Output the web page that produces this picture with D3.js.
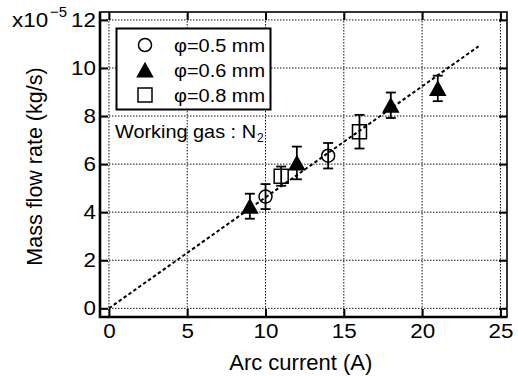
<!DOCTYPE html>
<html>
<head>
<meta charset="utf-8">
<script src="https://cdn.jsdelivr.net/npm/d3@7"></script>
<style>
  body { margin: 0; background: #fff; }
  svg { display: block; font-family: "Liberation Sans", Arial, Helvetica, sans-serif; }
</style>
</head>
<body>
<svg id="chart" width="518" height="376"></svg>
<script>
'use strict';

// DATA (arc current in A, mass flow rate in 1e-5 kg/s, error half-width)
const current_05 = [10, 14];
const flow_05 = [4.65, 6.35];
const err_05 = [0.52, 0.53];

const current_06 = [9, 12, 18, 21];
const flow_06 = [4.25, 6.05, 8.45, 9.15];
const err_06 = [0.52, 0.68, 0.53, 0.53];

const current_08 = [11, 16];
const flow_08 = [5.5, 7.35];
const err_08 = [0.4, 0.7];

const fit_x = [0, 23.6];
const fit_y = [0, 10.9];

const x_ticks = [0, 5, 10, 15, 20, 25];
const y_ticks = [0, 2, 4, 6, 8, 10, 12];

const legend_labels = ['\u03c6=0.5 mm', '\u03c6=0.6 mm', '\u03c6=0.8 mm'];

const series = [
  { shape: 'circle', label: legend_labels[0], x: current_05, y: flow_05, err: err_05 },
  { shape: 'triangle', label: legend_labels[1], x: current_06, y: flow_06, err: err_06 },
  { shape: 'square', label: legend_labels[2], x: current_08, y: flow_08, err: err_08 }
];

// LAYOUT
const width = 518;
const height = 376;
const margin = { top: 12, right: 11, bottom: 59, left: 100 };
const inner_w = width - margin.left - margin.right;
const inner_h = height - margin.top - margin.bottom;

const svg = d3.select('#chart');
const g = svg.append('g').attr('transform', `translate(${margin.left},${margin.top})`);

const x = d3.scaleLinear().domain([-0.57, 25.42]).range([0, inner_w]);
const y = d3.scaleLinear().domain([-0.36, 12.33]).range([inner_h, 0]);

// the scanned figure has slightly wide glyphs: stretch text horizontally
function stretch(sel, k) {
  sel.each(function() {
    const len = this.getComputedTextLength();
    d3.select(this).attr('textLength', len * k).attr('lengthAdjust', 'spacingAndGlyphs');
  });
}

// GRID
const grid = g.append('g').attr('class', 'grid')
  .attr('stroke', '#111').attr('stroke-width', 1).attr('stroke-dasharray', '1.5,1.5');
grid.selectAll('.vgrid').data(x_ticks).enter().append('line')
  .attr('x1', d => x(d)).attr('x2', d => x(d))
  .attr('y1', 0).attr('y2', inner_h);
grid.selectAll('.hgrid').data(y_ticks).enter().append('line')
  .attr('x1', 0).attr('x2', inner_w)
  .attr('y1', d => y(d)).attr('y2', d => y(d));

// AXES
const tick_len = 8;
const font_tick = 20;

const x_axis = g.append('g')
  .attr('transform', `translate(0,${inner_h})`)
  .call(d3.axisBottom(x).tickValues(x_ticks).tickSize(-tick_len).tickPadding(7));
const y_axis = g.append('g')
  .call(d3.axisLeft(y).tickValues(y_ticks).tickSize(-tick_len).tickPadding(4));
const x_axis_top = g.append('g')
  .call(d3.axisTop(x).tickValues(x_ticks).tickSize(-tick_len).tickFormat(''));
const y_axis_right = g.append('g')
  .attr('transform', `translate(${inner_w},0)`)
  .call(d3.axisRight(y).tickValues(y_ticks).tickSize(-tick_len).tickFormat(''));

[x_axis, y_axis, x_axis_top, y_axis_right].forEach(a => {
  a.select('.domain').remove();
  a.selectAll('.tick line').attr('stroke', '#000').attr('stroke-width', 2);
  a.selectAll('text')
    .attr('fill', '#000')
    .attr('font-size', font_tick)
    .attr('font-family', '"Liberation Sans", Arial, sans-serif');
});
stretch(x_axis.selectAll('text'), 1.12);
stretch(y_axis.selectAll('text'), 1.12);

// frame: bold left / bottom, lighter top / right
g.append('rect')
  .attr('x', 0).attr('y', 0).attr('width', inner_w).attr('height', inner_h)
  .attr('fill', 'none').attr('stroke', '#000').attr('stroke-width', 1.6);
g.append('path')
  .attr('d', `M0,0 V${inner_h} H${inner_w}`)
  .attr('fill', 'none').attr('stroke', '#000').attr('stroke-width', 2.6);

// exponent label
const expo = svg.append('g');
const expo_base = expo.append('text')
  .attr('x', 12).attr('y', 27)
  .attr('font-size', font_tick)
  .attr('fill', '#000')
  .text('x10');
stretch(expo_base, 1.12);
expo.append('text')
  .attr('x', 50).attr('y', 17)
  .attr('font-size', 15)
  .attr('fill', '#000')
  .text('\u22125');

// axis titles
svg.append('text')
  .attr('x', margin.left + x(12.25)).attr('y', 370)
  .attr('text-anchor', 'middle')
  .attr('font-size', 22)
  .attr('fill', '#000')
  .text('Arc current (A)');

svg.append('text')
  .attr('transform', `translate(42,${margin.top + y(5.9)}) rotate(-90)`)
  .attr('text-anchor', 'middle')
  .attr('font-size', 21.5)
  .attr('fill', '#000')
  .text('Mass flow rate (kg/s)');

// FIT LINE
const fit_data = fit_x.map((d, i) => [d, fit_y[i]]);
g.append('path')
  .datum(fit_data)
  .attr('d', d3.line().x(d => x(d[0])).y(d => y(d[1])))
  .attr('fill', 'none')
  .attr('stroke', '#000')
  .attr('stroke-width', 2)
  .attr('stroke-dasharray', '3.5,2.5');

// MARKERS
function markerPath(shape, cx, cy) {
  if (shape === 'circle') {
    const r = 6.5;
    return `M${cx - r},${cy} a${r},${r} 0 1,0 ${2 * r},0 a${r},${r} 0 1,0 ${-2 * r},0 Z`;
  }
  if (shape === 'triangle') {
    const w = 15, h = 13.5;
    return `M${cx},${cy - h / 2} L${cx + w / 2},${cy + h / 2} L${cx - w / 2},${cy + h / 2} Z`;
  }
  const s = 14;
  return `M${cx - s / 2},${cy - s / 2} h${s} v${s} h${-s} Z`;
}

const cap_w = 10;
series.forEach(s => {
  const pts = s.x.map((d, i) => ({ x: d, y: s.y[i], e: s.err[i] }));
  const sg = g.append('g').attr('class', 'series-' + s.shape);

  const eb = sg.selectAll('.errbar').data(pts).enter().append('g')
    .attr('stroke', '#000').attr('stroke-width', 1.8);
  eb.append('line')
    .attr('x1', d => x(d.x)).attr('x2', d => x(d.x))
    .attr('y1', d => y(d.y + d.e)).attr('y2', d => y(d.y - d.e));
  eb.append('line')
    .attr('x1', d => x(d.x) - cap_w / 2).attr('x2', d => x(d.x) + cap_w / 2)
    .attr('y1', d => y(d.y + d.e)).attr('y2', d => y(d.y + d.e));
  eb.append('line')
    .attr('x1', d => x(d.x) - cap_w / 2).attr('x2', d => x(d.x) + cap_w / 2)
    .attr('y1', d => y(d.y - d.e)).attr('y2', d => y(d.y - d.e));

  sg.selectAll('.marker').data(pts).enter().append('path')
    .attr('d', d => markerPath(s.shape, x(d.x), y(d.y)))
    .attr('fill', s.shape === 'triangle' ? '#000' : 'none')
    .attr('stroke', '#000')
    .attr('stroke-width', 1.5);
});

// LEGEND
const lg = svg.append('g');
lg.append('rect')
  .attr('x', 116.5).attr('y', 28.5).attr('width', 154).attr('height', 81)
  .attr('fill', '#fff').attr('stroke', '#000').attr('stroke-width', 2);
series.forEach((s, i) => {
  const cy = 45 + i * 25;
  lg.append('path')
    .attr('d', markerPath(s.shape, 145, cy))
    .attr('fill', s.shape === 'triangle' ? '#000' : 'none')
    .attr('stroke', '#000').attr('stroke-width', 1.5);
  lg.append('text')
    .attr('x', 174).attr('y', cy + 7)
    .attr('font-size', 18)
    .attr('fill', '#000')
    .attr('textLength', 91)
    .attr('lengthAdjust', 'spacingAndGlyphs')
    .text(s.label);
});

// annotation
const note = svg.append('g');
note.append('text')
  .attr('x', 115).attr('y', 138)
  .attr('font-size', 18.5)
  .attr('fill', '#000')
  .attr('textLength', 141)
  .attr('lengthAdjust', 'spacingAndGlyphs')
  .text('Working gas : N');
note.append('text')
  .attr('x', 257).attr('y', 142)
  .attr('font-size', 12)
  .attr('fill', '#000')
  .text('2');
</script>
</body>
</html>
